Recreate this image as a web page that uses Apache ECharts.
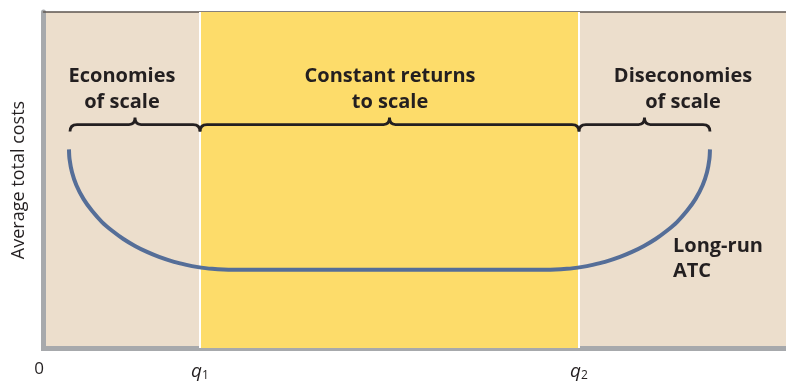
<!DOCTYPE html>
<html>
<head>
<meta charset="utf-8">
<script src="https://cdn.jsdelivr.net/npm/echarts@6/dist/echarts.min.js"></script>
<style>
html,body{margin:0;padding:0;background:#fff;}
#c{width:786px;height:382px;}
</style>
</head>
<body>
<div id="c"></div>
<script>
// ---- data ----
const Q1 = 21.08;
const Q2 = 72.12;
const curveX = [3.43, 3.51, 3.84, 4.43, 5.40, 6.56, 7.88, 9.29, 10.76, 12.32, 13.94, 15.56, 17.58, 19.25, 20.62, 22.69, 25.52,
                46.67,
                67.68, 70.48, 72.58, 73.95, 75.62, 77.64, 79.26, 80.87, 82.44, 83.91, 85.32, 86.64, 87.80, 88.77, 89.36, 89.68, 89.76];
const curveY = [59.11, 56.15, 52.30, 48.44, 44.30, 40.74, 37.48, 34.81, 32.44, 30.37, 28.59, 27.11, 25.63, 24.74, 24.15, 23.56, 23.26,
                23.26,
                23.26, 23.56, 24.15, 24.74, 25.63, 27.11, 28.59, 30.37, 32.44, 34.81, 37.48, 40.74, 44.30, 48.44, 52.30, 56.15, 59.11];
const braceStart = [3.57, Q1, Q2];
const braceEnd = [Q1, Q2, 89.76];
const braceLevel = [66.5, 66.5, 66.5];
const regionTitles = ['Economies\nof scale', 'Constant returns\nto scale', 'Diseconomies\nof scale'];
const regionTitleX = [10.57, 46.67, 86.13];
const regionTitleY = [76.9, 76.9, 76.9];
const curveLabel = 'Long-run\nATC';
const curveLabelX = 84.78;
const curveLabelY = 26.6;
const tickValues = [0, Q1, Q2];
const tickMain = ['0', 'q', 'q'];
const tickSub = ['', '1', '2'];
const yTitle = 'Average total costs';

const TEXT = '#231f20';
const FONT = '"Open Sans", "DejaVu Sans", sans-serif';

const chart = echarts.init(document.getElementById('c'), null, {renderer: 'canvas'});

const braceData = braceStart.map((s, i) => [s, braceEnd[i], braceLevel[i]]);
const titleData = regionTitles.map((t, i) => [regionTitleX[i], regionTitleY[i], t]);

chart.setOption({
  animation: false,
  backgroundColor: '#ffffff',
  grid: {left: 43.5, right: 0, top: 12, bottom: 32.5, show: true, backgroundColor: '#ecdecc', borderWidth: 0},
  xAxis: [{
    type: 'value', min: 0, max: 100,
    splitLine: {show: false},
    axisTick: {show: false},
    axisLine: {show: true, lineStyle: {color: '#a7a9ac', width: 5, cap: 'square'}},
    axisLabel: {
      show: true,
      customValues: tickValues,
      margin: 13,
      formatter: function (v) {
        const i = tickValues.indexOf(v);
        if (i < 0) return '';
        if (tickSub[i] === '') return '{z|' + tickMain[i] + '}';
        return '{q|' + tickMain[i] + '}{s|' + tickSub[i] + '}';
      },
      rich: {
        z: {fontFamily: FONT, fontSize: 17, color: TEXT, padding: [0, 9, 0, 0]},
        q: {fontFamily: FONT, fontSize: 19, fontStyle: 'italic', color: TEXT, verticalAlign: 'middle'},
        s: {fontFamily: FONT, fontSize: 12, color: TEXT, verticalAlign: 'bottom', padding: [9, 0, 0, 0]}
      }
    }
  }, {
    type: 'value', min: 0, max: 100, position: 'top',
    splitLine: {show: false}, axisTick: {show: false}, axisLabel: {show: false},
    axisLine: {show: true, lineStyle: {color: '#5e5650', width: 1.5}}
  }],
  yAxis: {
    type: 'value', min: 0, max: 100,
    splitLine: {show: false}, axisTick: {show: false}, axisLabel: {show: false},
    axisLine: {show: true, lineStyle: {color: '#a7a9ac', width: 5}},
    name: yTitle, nameLocation: 'middle', nameGap: 16, nameRotate: 90,
    nameTextStyle: {fontFamily: FONT, fontSize: 18, color: TEXT}
  },
  series: [{
    type: 'line',
    data: curveX.map((x, i) => [x, curveY[i]]),
    smooth: 0.3,
    showSymbol: false,
    lineStyle: {color: '#556e98', width: 4},
    z: 5,
    markArea: {
      silent: true,
      itemStyle: {color: '#fddc6a'},
      data: [[{xAxis: Q1}, {xAxis: Q2}]]
    },
    markLine: {
      silent: true, symbol: 'none',
      label: {show: false},
      lineStyle: {color: '#ffffff', width: 2, type: 'solid'},
      data: [{xAxis: Q1}, {xAxis: Q2}]
    }
  }, {
    type: 'custom',
    z: 6,
    data: braceData,
    renderItem: function (params, api) {
      const a = api.coord([api.value(0), api.value(2)]);
      const b = api.coord([api.value(1), api.value(2)]);
      const y = a[1];
      const x0 = a[0], x1 = b[0], m = (x0 + x1) / 2;
      const d = 'M' + x0 + ',' + (y + 7) +
        ' Q' + x0 + ',' + y + ' ' + (x0 + 7) + ',' + y +
        ' L' + (m - 6) + ',' + y +
        ' Q' + m + ',' + y + ' ' + m + ',' + (y - 7) +
        ' Q' + m + ',' + y + ' ' + (m + 6) + ',' + y +
        ' L' + (x1 - 7) + ',' + y +
        ' Q' + x1 + ',' + y + ' ' + x1 + ',' + (y + 7);
      return {type: 'path', shape: {pathData: d}, style: {stroke: TEXT, lineWidth: 2.8, fill: 'none'}};
    }
  }, {
    type: 'custom',
    z: 7,
    data: titleData,
    renderItem: function (params, api) {
      const p = api.coord([api.value(0), api.value(1)]);
      return {type: 'text', x: p[0], y: p[1], style: {
        text: titleData[params.dataIndex][2], fill: TEXT,
        font: 'bold 20px ' + FONT, align: 'center', verticalAlign: 'middle', lineHeight: 26
      }};
    }
  }, {
    type: 'custom',
    z: 7,
    data: [[curveLabelX, curveLabelY]],
    renderItem: function (params, api) {
      const p = api.coord([api.value(0), api.value(1)]);
      return {type: 'text', x: p[0], y: p[1], style: {
        text: curveLabel, fill: TEXT,
        font: 'bold 20px ' + FONT, align: 'left', verticalAlign: 'middle', lineHeight: 25
      }};
    }
  }]
});
</script>
</body>
</html>
